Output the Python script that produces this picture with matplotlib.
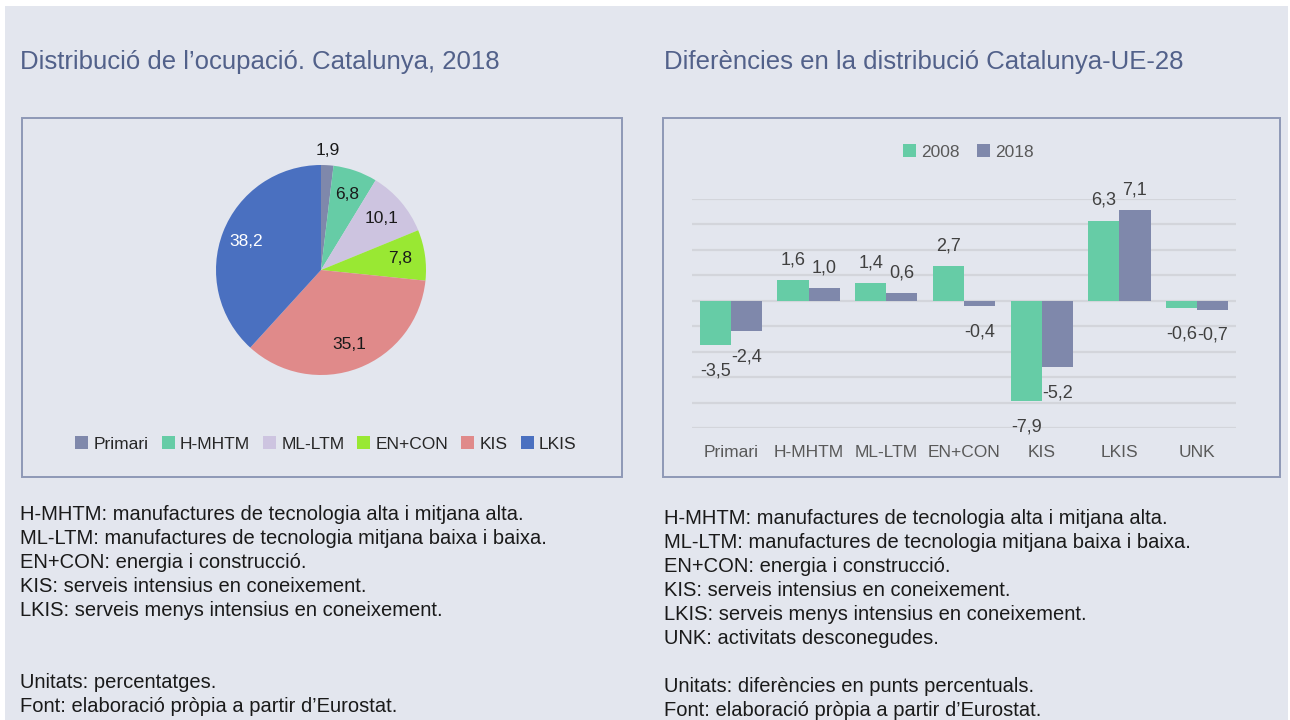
import numpy as np
import matplotlib
matplotlib.use('Agg')
import matplotlib.pyplot as plt
from matplotlib.patches import Rectangle

plt.rcParams['font.family'] = ['Liberation Sans', 'DejaVu Sans']

# pie data: distribucio de l'ocupacio, Catalunya 2018
pie_labels = ['Primari', 'H-MHTM', 'ML-LTM', 'EN+CON', 'KIS', 'LKIS']
pie_values = [1.9, 6.8, 10.1, 7.8, 35.1, 38.2]
pie_colors = ['#7F88AB', '#66CCA6', '#CDC4E0', '#99E833', '#E08A8A', '#4A70C0']

# bar data: diferencies Catalunya - UE-28
bar_cats = ['Primari', 'H-MHTM', 'ML-LTM', 'EN+CON', 'KIS', 'LKIS', 'UNK']
vals_2008 = [-3.5, 1.6, 1.4, 2.7, -7.9, 6.3, -0.6]
vals_2018 = [-2.4, 1.0, 0.6, -0.4, -5.2, 7.1, -0.7]
years = ['2008', '2018']
bar_colors = ['#66CCA6', '#7F88AB']

notes_left = ['H-MHTM: manufactures de tecnologia alta i mitjana alta.',
              'ML-LTM: manufactures de tecnologia mitjana baixa i baixa.',
              'EN+CON: energia i construcció.',
              'KIS: serveis intensius en coneixement.',
              'LKIS: serveis menys intensius en coneixement.',
              '', '',
              'Unitats: percentatges.',
              'Font: elaboració pròpia a partir d’Eurostat.']
notes_right = ['H-MHTM: manufactures de tecnologia alta i mitjana alta.',
               'ML-LTM: manufactures de tecnologia mitjana baixa i baixa.',
               'EN+CON: energia i construcció.',
               'KIS: serveis intensius en coneixement.',
               'LKIS: serveis menys intensius en coneixement.',
               'UNK: activitats desconegudes.',
               '',
               'Unitats: diferències en punts percentuals.',
               'Font: elaboració pròpia a partir d’Eurostat.']

BG = '#E3E6EE'
W, H = 1290, 720

def fx(px):
    return px / W

def fy(py):
    return 1 - py / H

fig = plt.figure(figsize=(12.9, 7.2), dpi=100)
fig.patch.set_facecolor('white')
fig.patches.append(Rectangle((fx(5), 0), fx(1283), fy(6), transform=fig.transFigure,
                             facecolor=BG, edgecolor='none', zorder=-10))
# panel frames
for x0, x1 in [(22, 622), (663, 1280)]:
    fig.patches.append(Rectangle((fx(x0), fy(477)), fx(x1 - x0), (477 - 118) / H,
                                 transform=fig.transFigure, facecolor='none',
                                 edgecolor='#8E98B6', linewidth=1.4))

title_col = '#52618A'
fig.text(fx(20), fy(62), 'Distribució de l’ocupació. Catalunya, 2018', fontsize=18.5,
         color=title_col, va='center', ha='left')
fig.text(fx(664), fy(62), 'Diferències en la distribució Catalunya-UE-28', fontsize=18.5,
         color=title_col, va='center', ha='left')

# ---- pie ----
axp = fig.add_axes([fx(321 - 150), fy(270 + 150), fx(300), 300 / H])
axp.set_facecolor('none')
total = sum(pie_values)
wedges, _, autotexts = axp.pie(pie_values, colors=pie_colors, startangle=90, counterclock=False,
                               radius=0.7, pctdistance=0.76,
                               autopct=lambda p: f'{p * total / 100:.1f}'.replace('.', ','),
                               textprops={'fontsize': 12.5, 'color': '#1a1a1a'})
axp.set_xlim(-1, 1)
axp.set_ylim(-1, 1)
axp.set_aspect('equal')
# small slice label sits outside the pie
ang = np.deg2rad(90 - pie_values[0] / total * 360 / 2)
autotexts[0].set_position((0.7 * 1.14 * np.cos(ang), 0.7 * 1.14 * np.sin(ang)))
autotexts[-1].set_color('white')

fig.legend(wedges, pie_labels, loc='center', bbox_to_anchor=(fx(326), fy(444)), ncol=6,
           frameon=False, fontsize=12.5, handlelength=0.75, handleheight=0.75,
           handletextpad=0.3, columnspacing=0.75, labelcolor='#262626')

# ---- bars ----
axb = fig.add_axes([fx(692), fy(428), fx(544), (428 - 199) / H])
axb.set_facecolor('none')
x = np.arange(len(bar_cats))
bw = 0.4
b1 = axb.bar(x - bw / 2, vals_2008, bw, color=bar_colors[0], label=years[0], zorder=3)
b2 = axb.bar(x + bw / 2, vals_2018, bw, color=bar_colors[1], label=years[1], zorder=3)
for bars, vals in [(b1, vals_2008), (b2, vals_2018)]:
    for rect, v in zip(bars, vals):
        axb.annotate(f'{v:.1f}'.replace('.', ','), (rect.get_x() + rect.get_width() / 2, v),
                     xytext=(0, 14.5 if v > 0 else -18.5), textcoords='offset points',
                     ha='center', va='center', fontsize=13, color='#404040')
axb.set_xlim(-0.5, len(bar_cats) - 0.5)
axb.set_ylim(-10, 8)
axb.set_yticks(np.arange(-10, 9, 2))
axb.yaxis.grid(True, color='#D3D5DB', linewidth=1.6, zorder=0)
axb.tick_params(axis='y', left=False, labelleft=False)
axb.tick_params(axis='x', bottom=False, pad=9, labelsize=12.5, labelcolor='#595959')
axb.set_xticks(x)
axb.set_xticklabels(bar_cats)
for s in axb.spines.values():
    s.set_visible(False)
fig.legend(handles=[b1, b2], labels=years, loc='center', bbox_to_anchor=(fx(968), fy(152)),
           ncol=2, frameon=False, fontsize=12.5, handlelength=0.75, handleheight=0.75,
           handletextpad=0.3, columnspacing=1.0, labelcolor='#595959')

# ---- notes ----
for x0, y0, lines in [(20, 515, notes_left), (664, 519, notes_right)]:
    for i, line in enumerate(lines):
        fig.text(fx(x0), fy(y0 + i * 24), line, fontsize=14.5, color='#1a1a1a',
                 va='center', ha='left')

fig.savefig('out.png', dpi=100, facecolor=fig.get_facecolor())
